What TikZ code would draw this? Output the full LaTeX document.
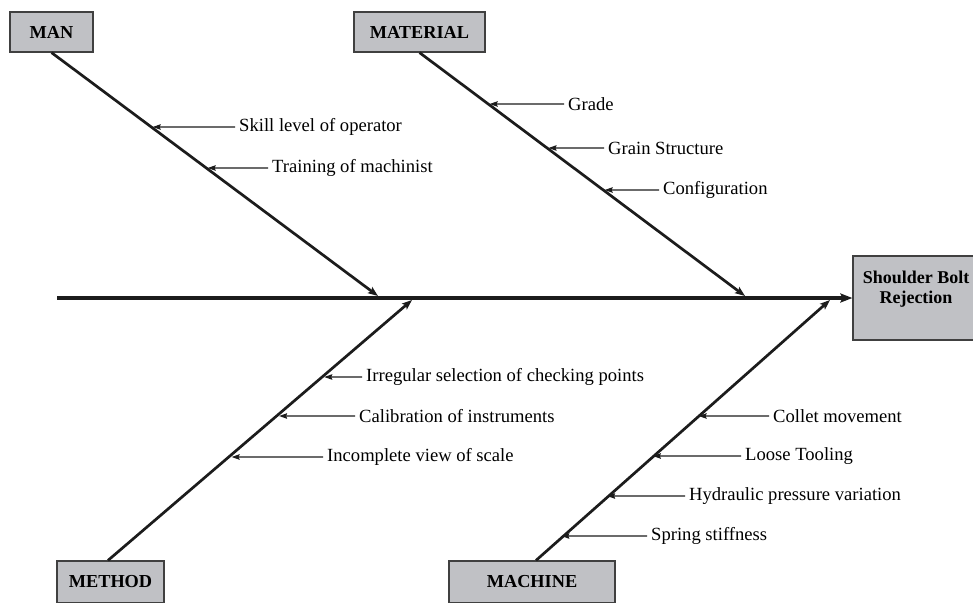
\documentclass[tikz,border=0pt]{standalone}
\usepackage{fontspec}
\setmainfont{Liberation Serif}
\usetikzlibrary{arrows.meta}
\definecolor{boxgray}{RGB}{192,193,197}
\definecolor{ink}{RGB}{28,28,28}
\begin{document}
\begin{tikzpicture}[x=1pt,y=-1pt,
		category/.style={rectangle, draw=black!75, fill=boxgray, line width=1.2pt, minimum height=40pt, inner sep=0pt, font=\fontsize{18.3}{20}\selectfont\bfseries},
		effect/.style={rectangle, draw=black!75, fill=boxgray, line width=1.2pt, minimum width=126pt, minimum height=84pt, align=center, text depth=21pt, font=\fontsize{18}{20}\selectfont\bfseries},
		cause/.style={anchor=west, inner xsep=4pt, inner ysep=2pt, font=\fontsize{18.6}{20}\selectfont},
		spine/.style={-{Stealth[length=12pt,width=9pt,inset=2pt]}, line width=3.4pt, ink},
		bone/.style={-{Stealth[length=10pt,width=7.5pt,inset=2pt]}, line width=2.7pt, ink},
		link/.style={-{Stealth[length=8pt,width=5.5pt,inset=1pt]}, line width=1.1pt, ink, shorten >=1.4pt}
		]
		\clip (0,0) rectangle (973,602);
		
		\node[category, minimum width=83pt] (man) at (51.5,32) {MAN};
		\node[category, minimum width=131pt] (material) at (419.5,32) {MATERIAL};
		\node[category, minimum width=107pt, minimum height=42pt] (method) at (110.5,582) {METHOD};
		\node[category, minimum width=166pt, minimum height=42pt] (machine) at (532,582) {MACHINE};
		\node[effect] (head) at (916,298) {Shoulder Bolt\\Rejection};
		
		% spine and bones
		\coordinate (tail) at (57,298);
		\coordinate (manend) at (378,296);
		\coordinate (materialend) at (745,296);
		\coordinate (methodend) at (412,300);
		\coordinate (machineend) at (830,300);
		\draw[spine] (tail) -- (head.west);
		\draw[bone] (man.south) -- (manend);
		\draw[bone] (material.south) -- (materialend);
		\draw[bone] ([xshift=-2.5pt]method.north) -- (methodend);
		\draw[bone] ([xshift=4pt]machine.north) -- (machineend);
		
		% causes
		\node[cause] (skill) at (235,127) {Skill level of operator};
		\node[cause] (training) at (268,168) {Training of machinist};
		\node[cause] (grade) at (564,104) {Grade};
		\node[cause] (grain) at (604,148) {Grain Structure};
		\node[cause] (config) at (659,190) {Configuration};
		\node[cause] (irregular) at (362,377) {Irregular selection of checking points};
		\node[cause] (calibration) at (355,416) {Calibration of instruments};
		\node[cause] (incomplete) at (323,457) {Incomplete view of scale};
		\node[cause] (collet) at (769,416) {Collet movement};
		\node[cause] (loose) at (741,456) {Loose Tooling};
		\node[cause] (hydraulic) at (685,496) {Hydraulic pressure variation};
		\node[cause] (spring) at (647,536) {Spring stiffness};
		
		\draw[link] (skill.west) -- (intersection of man.south--manend and skill.west--skill.east);
		\draw[link] (training.west) -- (intersection of man.south--manend and training.west--training.east);
		\draw[link] (grade.west) -- (intersection of material.south--materialend and grade.west--grade.east);
		\draw[link] (grain.west) -- (intersection of material.south--materialend and grain.west--grain.east);
		\draw[link] (config.west) -- (intersection of material.south--materialend and config.west--config.east);
		\draw[link] (irregular.west) -- (intersection of method.north--methodend and irregular.west--irregular.east);
		\draw[link] (calibration.west) -- (intersection of method.north--methodend and calibration.west--calibration.east);
		\draw[link] (incomplete.west) -- (intersection of method.north--methodend and incomplete.west--incomplete.east);
		\draw[link] (collet.west) -- (intersection of machine.north--machineend and collet.west--collet.east);
		\draw[link] (loose.west) -- (intersection of machine.north--machineend and loose.west--loose.east);
		\draw[link] (hydraulic.west) -- (intersection of machine.north--machineend and hydraulic.west--hydraulic.east);
		\draw[link] (spring.west) -- (intersection of machine.north--machineend and spring.west--spring.east);
		
	\end{tikzpicture}
\end{document}
